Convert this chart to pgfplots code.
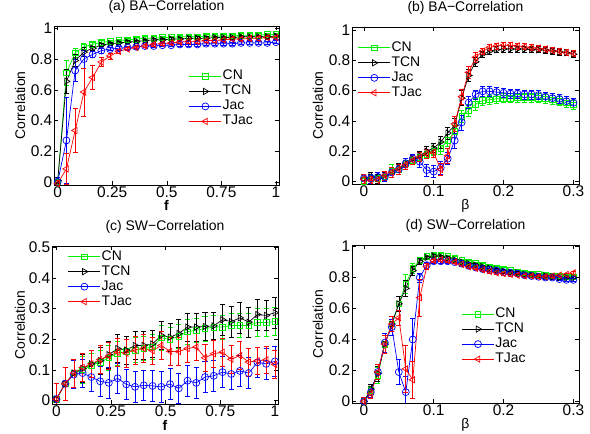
\documentclass[border=0pt]{standalone}
\usepackage{fontspec}
\setmainfont{Liberation Sans}
\usepackage{pgfplots}
\pgfplotsset{compat=1.18}

\definecolor{mgreen}{RGB}{0,240,0}
\definecolor{mblue}{RGB}{0,0,255}
\definecolor{mred}{RGB}{255,0,0}

\newcommand{\fs}{\fontsize{14}{16}\selectfont}
\newcommand{\fst}{\fontsize{15.5}{17}\selectfont}

\pgfplotsset{
  panel/.style={
    scale only axis,
    anchor=south west,
    /pgf/number format/assume math mode=true,
    tick align=inside,
    xtick pos=both, ytick pos=both,
    major tick length=4bp,
    tick style={black, line width=0.5bp},
    axis line style={line width=0.7bp},
    tick label style={font=\fst},
    every tick label/.append style={inner sep=1.5bp},
    title style={font=\fs, at={(0.5,1)}, anchor=base, yshift=10bp},
    ylabel style={font=\fs, anchor=center},
    xlabel style={font=\fs, at={(axis description cs:0.5,0)}, anchor=base, yshift=-26bp},
    ylabel={Correlation},
    legend cell align=left,
    legend style={font=\fs, draw=none, fill=none, inner sep=0pt, outer sep=0pt,
      anchor=north west, row sep=0bp,
      nodes={text height=10bp, text depth=3bp, inner sep=1bp}},
    legend image code/.code={
      \draw[mark repeat=2,mark phase=2,##1]
        plot coordinates {(0bp,0bp) (16bp,0bp) (32bp,0bp)};},
  },
  eb/.style={
    /pgfplots/error bars/y dir=both,
    /pgfplots/error bars/y explicit,
    /pgfplots/error bars/error bar style={line width=0.6bp},
    /pgfplots/error bars/error mark options={rotate=90, mark size=2.5bp, line width=0.6bp},
  },
  cn/.style={mgreen, line width=0.7bp, mark=square, mark size=2.8bp, mark options={solid}},
  tcn/.style={black, line width=0.7bp, mark=triangle, mark size=3.6bp, mark options={solid, rotate=-90}},
  jac/.style={mblue, line width=0.7bp, mark=o, mark size=3.5bp, mark options={solid}},
  tjac/.style={mred, line width=0.7bp, mark=triangle, mark size=3.6bp, mark options={solid, rotate=90}},
}

\begin{document}
\begin{tikzpicture}
\useasboundingbox (0,0) rectangle (590bp,434bp);

% (a) BA, varying f
\begin{axis}[panel,
  at={(54bp,249bp)}, width=225bp, height=159bp,
  xmin=-0.017, xmax=1.014, ymin=-0.02, ymax=1.015,
  xtick={0,0.25,0.5,0.75,1}, ytick={0,0.2,0.4,0.6,0.8,1},
  title={(a) BA−Correlation}, xlabel={\textbf{f}},
  ylabel style={at={(axis description cs:-0.151,0.5)}},
  legend style={at={(0.6,0.73)}},
]
\addplot[cn, eb] table[y error index=2] {
0 0.00 0.02
0.04 0.71 0.08
0.08 0.84 0.03
0.12 0.88 0.02
0.16 0.895 0.015
0.20 0.91 0.01
0.24 0.915 0.01
0.28 0.92 0.01
0.32 0.925 0.01
0.36 0.93 0.01
0.40 0.935 0.01
0.44 0.935 0.01
0.48 0.94 0.01
0.52 0.94 0.01
0.56 0.945 0.01
0.60 0.945 0.01
0.64 0.945 0.01
0.68 0.95 0.01
0.72 0.95 0.01
0.76 0.95 0.01
0.80 0.95 0.01
0.84 0.955 0.01
0.88 0.955 0.01
0.92 0.955 0.01
0.96 0.96 0.01
1.00 0.96 0.01
};
\addplot[tcn, eb] table[y error index=2] {
0 0.01 0.02
0.04 0.655 0.08
0.08 0.79 0.04
0.12 0.845 0.03
0.16 0.87 0.015
0.20 0.89 0.01
0.24 0.90 0.01
0.28 0.905 0.01
0.32 0.91 0.01
0.36 0.915 0.01
0.40 0.92 0.01
0.44 0.925 0.01
0.48 0.925 0.01
0.52 0.93 0.01
0.56 0.93 0.01
0.60 0.935 0.01
0.64 0.935 0.01
0.68 0.935 0.01
0.72 0.94 0.01
0.76 0.94 0.01
0.80 0.94 0.01
0.84 0.945 0.01
0.88 0.945 0.01
0.92 0.945 0.01
0.96 0.945 0.01
1.00 0.95 0.01
};
\addplot[jac, eb] table[y error index=2] {
0 0.00 0.03
0.04 0.27 0.28
0.08 0.725 0.07
0.12 0.80 0.06
0.16 0.83 0.02
0.20 0.855 0.015
0.24 0.865 0.01
0.28 0.87 0.01
0.32 0.875 0.01
0.36 0.88 0.01
0.40 0.885 0.01
0.44 0.885 0.01
0.48 0.89 0.01
0.52 0.89 0.01
0.56 0.895 0.01
0.60 0.895 0.01
0.64 0.895 0.01
0.68 0.90 0.01
0.72 0.90 0.01
0.76 0.90 0.01
0.80 0.90 0.01
0.84 0.905 0.01
0.88 0.905 0.01
0.92 0.905 0.01
0.96 0.905 0.01
1.00 0.91 0.01
};
\addplot[tjac, eb] table[y error index=2] {
0 -0.01 0.02
0.04 0.085 0.10
0.08 0.335 0.145
0.12 0.585 0.155
0.16 0.68 0.08
0.20 0.78 0.03
0.24 0.82 0.02
0.28 0.85 0.015
0.32 0.865 0.01
0.36 0.875 0.01
0.40 0.885 0.01
0.44 0.895 0.01
0.48 0.90 0.01
0.52 0.905 0.01
0.56 0.91 0.01
0.60 0.915 0.01
0.64 0.915 0.01
0.68 0.92 0.01
0.72 0.92 0.01
0.76 0.925 0.01
0.80 0.93 0.01
0.84 0.93 0.01
0.88 0.935 0.01
0.92 0.935 0.01
0.96 0.94 0.01
1.00 0.94 0.01
};
\legend{CN,TCN,Jac,TJac}
\end{axis}

% (b) BA, varying beta
\begin{axis}[panel,
  at={(352bp,250bp)}, width=227bp, height=157bp,
  xmin=-0.017, xmax=0.308, ymin=-0.017, ymax=1.02,
  xtick={0,0.1,0.2,0.3}, ytick={0,0.2,0.4,0.6,0.8,1},
  title={(b) BA−Correlation}, xlabel={β},
  ylabel style={at={(axis description cs:-0.15,0.5)}},
  legend style={at={(0.026,0.915)}},
]
\addplot[cn, eb] table[y error index=2] {
0 0.00 0.03
0.01 0.02 0.03
0.02 0.02 0.03
0.03 0.03 0.03
0.04 0.07 0.04
0.05 0.08 0.03
0.06 0.12 0.03
0.07 0.14 0.03
0.08 0.16 0.03
0.09 0.18 0.03
0.10 0.20 0.03
0.11 0.22 0.04
0.12 0.27 0.04
0.13 0.33 0.04
0.14 0.43 0.04
0.15 0.47 0.04
0.16 0.51 0.04
0.17 0.535 0.03
0.18 0.54 0.03
0.19 0.545 0.03
0.20 0.55 0.03
0.21 0.55 0.03
0.22 0.555 0.03
0.23 0.555 0.03
0.24 0.555 0.03
0.25 0.55 0.03
0.26 0.545 0.03
0.27 0.54 0.03
0.28 0.53 0.03
0.29 0.52 0.03
0.30 0.505 0.03
};
\addplot[tcn, eb] table[y error index=2] {
0 0.02 0.03
0.01 0.03 0.03
0.02 0.02 0.03
0.03 0.04 0.03
0.04 0.06 0.03
0.05 0.09 0.03
0.06 0.12 0.03
0.07 0.15 0.03
0.08 0.17 0.03
0.09 0.20 0.03
0.10 0.22 0.03
0.11 0.26 0.04
0.12 0.32 0.04
0.13 0.37 0.05
0.14 0.55 0.05
0.15 0.70 0.04
0.16 0.79 0.03
0.17 0.84 0.02
0.18 0.86 0.02
0.19 0.87 0.02
0.20 0.875 0.02
0.21 0.875 0.02
0.22 0.875 0.02
0.23 0.875 0.02
0.24 0.87 0.02
0.25 0.87 0.02
0.26 0.865 0.02
0.27 0.86 0.02
0.28 0.855 0.02
0.29 0.85 0.02
0.30 0.84 0.02
};
\addplot[jac, eb] table[y error index=2] {
0 0.02 0.03
0.01 0.02 0.03
0.02 0.03 0.03
0.03 0.03 0.03
0.04 0.06 0.03
0.05 0.08 0.03
0.06 0.12 0.03
0.07 0.15 0.03
0.08 0.13 0.04
0.09 0.075 0.04
0.10 0.065 0.04
0.11 0.09 0.04
0.12 0.15 0.04
0.13 0.27 0.05
0.14 0.39 0.05
0.15 0.52 0.04
0.16 0.575 0.03
0.17 0.595 0.03
0.18 0.595 0.03
0.19 0.59 0.03
0.20 0.585 0.03
0.21 0.58 0.03
0.22 0.58 0.03
0.23 0.575 0.03
0.24 0.575 0.03
0.25 0.57 0.03
0.26 0.56 0.03
0.27 0.55 0.03
0.28 0.545 0.03
0.29 0.53 0.03
0.30 0.52 0.03
};
\addplot[tjac, eb] table[y error index=2] {
0 0.015 0.03
0.01 0.005 0.03
0.02 0.01 0.03
0.03 0.04 0.03
0.04 0.06 0.03
0.05 0.08 0.03
0.06 0.11 0.03
0.07 0.14 0.03
0.08 0.16 0.03
0.09 0.18 0.03
0.10 0.19 0.03
0.11 0.08 0.04
0.12 0.17 0.05
0.13 0.38 0.05
0.14 0.56 0.05
0.15 0.72 0.04
0.16 0.82 0.03
0.17 0.86 0.02
0.18 0.885 0.02
0.19 0.895 0.02
0.20 0.90 0.02
0.21 0.90 0.02
0.22 0.895 0.02
0.23 0.89 0.02
0.24 0.885 0.02
0.25 0.88 0.02
0.26 0.875 0.02
0.27 0.865 0.02
0.28 0.86 0.02
0.29 0.85 0.02
0.30 0.845 0.02
};
\legend{CN,TCN,Jac,TJac}
\end{axis}

% (c) SW, varying f
\begin{axis}[panel,
  at={(52bp,30bp)}, width=226bp, height=158bp,
  xmin=-0.02, xmax=1.014, ymin=-0.011, ymax=0.5045,
  xtick={0,0.25,0.5,0.75,1}, ytick={0,0.1,0.2,0.3,0.4,0.5},
  title={(c) SW−Correlation}, xlabel={\textbf{f}},
  ylabel style={at={(axis description cs:-0.142,0.5)}},
  legend style={at={(0.071,0.98)}},
]
\addplot[cn, eb] table[y error index=2] {
0 0.005 0.05
0.04 0.055 0.055
0.08 0.09 0.045
0.12 0.10 0.045
0.16 0.115 0.04
0.20 0.125 0.04
0.24 0.14 0.04
0.28 0.155 0.04
0.32 0.16 0.04
0.36 0.165 0.04
0.40 0.17 0.04
0.44 0.175 0.04
0.48 0.205 0.04
0.52 0.20 0.04
0.56 0.21 0.04
0.60 0.225 0.04
0.64 0.23 0.04
0.68 0.235 0.04
0.72 0.24 0.04
0.76 0.24 0.04
0.80 0.245 0.04
0.84 0.245 0.04
0.88 0.245 0.04
0.92 0.255 0.045
0.96 0.255 0.045
1.00 0.258 0.045
};
\addplot[tcn, eb] table[y error index=2] {
0 0.005 0.05
0.04 0.055 0.055
0.08 0.09 0.045
0.12 0.105 0.045
0.16 0.12 0.045
0.20 0.13 0.045
0.24 0.15 0.045
0.28 0.17 0.045
0.32 0.165 0.045
0.36 0.18 0.045
0.40 0.18 0.045
0.44 0.185 0.045
0.48 0.213 0.045
0.52 0.207 0.045
0.56 0.219 0.045
0.60 0.24 0.045
0.64 0.24 0.045
0.68 0.242 0.045
0.72 0.244 0.045
0.76 0.264 0.05
0.80 0.258 0.05
0.84 0.27 0.05
0.88 0.256 0.05
0.92 0.281 0.05
0.96 0.278 0.05
1.00 0.287 0.05
};
\addplot[jac, eb] table[y error index=2] {
0 0.005 0.05
0.04 0.055 0.055
0.08 0.085 0.045
0.12 0.09 0.045
0.16 0.077 0.045
0.20 0.063 0.05
0.24 0.058 0.05
0.28 0.073 0.05
0.32 0.053 0.05
0.36 0.045 0.05
0.40 0.05 0.05
0.44 0.048 0.05
0.48 0.045 0.05
0.52 0.054 0.05
0.56 0.04 0.05
0.60 0.065 0.05
0.64 0.058 0.05
0.68 0.077 0.05
0.72 0.081 0.05
0.76 0.093 0.05
0.80 0.087 0.05
0.84 0.097 0.05
0.88 0.09 0.05
0.92 0.125 0.05
0.96 0.12 0.05
1.00 0.128 0.05
};
\addplot[tjac, eb] table[y error index=2] {
0 0.005 0.05
0.04 0.055 0.055
0.08 0.09 0.045
0.12 0.108 0.045
0.16 0.12 0.045
0.20 0.134 0.045
0.24 0.146 0.045
0.28 0.158 0.045
0.32 0.155 0.045
0.36 0.165 0.045
0.40 0.17 0.045
0.44 0.163 0.045
0.48 0.18 0.045
0.52 0.161 0.045
0.56 0.16 0.045
0.60 0.17 0.045
0.64 0.175 0.045
0.68 0.14 0.045
0.72 0.153 0.045
0.76 0.158 0.045
0.80 0.135 0.045
0.84 0.147 0.045
0.88 0.126 0.045
0.92 0.13 0.045
0.96 0.133 0.045
1.00 0.118 0.045
};
\legend{CN,TCN,Jac,TJac}
\end{axis}

% (d) SW, varying beta
\begin{axis}[panel,
  at={(352bp,31bp)}, width=227bp, height=158bp,
  xmin=-0.017, xmax=0.308, ymin=-0.01, ymax=1.01,
  xtick={0,0.1,0.2,0.3}, ytick={0,0.2,0.4,0.6,0.8,1},
  title={(d) SW−Correlation}, xlabel={β},
  ylabel style={at={(axis description cs:-0.15,0.5)}},
  legend style={at={(0.483,0.61)}},
]
\addplot[cn, eb] table[y error index=2] {
0 0.00 0.03
0.01 0.07 0.03
0.02 0.17 0.05
0.03 0.37 0.06
0.04 0.50 0.05
0.05 0.63 0.05
0.06 0.76 0.06
0.07 0.86 0.03
0.08 0.91 0.02
0.09 0.935 0.01
0.10 0.945 0.01
0.11 0.945 0.01
0.12 0.935 0.01
0.13 0.925 0.01
0.14 0.91 0.01
0.15 0.90 0.01
0.16 0.89 0.01
0.17 0.88 0.01
0.18 0.87 0.01
0.19 0.86 0.01
0.20 0.855 0.01
0.21 0.845 0.01
0.22 0.835 0.01
0.23 0.83 0.01
0.24 0.825 0.01
0.25 0.82 0.01
0.26 0.815 0.01
0.27 0.81 0.01
0.28 0.81 0.01
0.29 0.805 0.01
0.30 0.805 0.01
};
\addplot[tcn, eb] table[y error index=2] {
0 0.00 0.03
0.01 0.08 0.03
0.02 0.18 0.05
0.03 0.37 0.06
0.04 0.50 0.05
0.05 0.63 0.05
0.06 0.73 0.05
0.07 0.845 0.03
0.08 0.905 0.02
0.09 0.93 0.01
0.10 0.94 0.01
0.11 0.935 0.01
0.12 0.925 0.01
0.13 0.915 0.01
0.14 0.90 0.01
0.15 0.89 0.01
0.16 0.88 0.01
0.17 0.87 0.01
0.18 0.86 0.01
0.19 0.85 0.01
0.20 0.84 0.01
0.21 0.835 0.01
0.22 0.83 0.01
0.23 0.82 0.01
0.24 0.815 0.01
0.25 0.81 0.01
0.26 0.81 0.01
0.27 0.805 0.01
0.28 0.80 0.01
0.29 0.80 0.01
0.30 0.80 0.01
};
\addplot[jac, eb] table[y error index=2] {
0 0.00 0.03
0.01 0.06 0.03
0.02 0.19 0.05
0.03 0.38 0.06
0.04 0.48 0.05
0.05 0.19 0.08
0.06 0.06 0.10
0.07 0.40 0.14
0.08 0.80 0.03
0.09 0.88 0.02
0.10 0.905 0.01
0.11 0.905 0.01
0.12 0.905 0.01
0.13 0.90 0.01
0.14 0.89 0.01
0.15 0.875 0.01
0.16 0.865 0.01
0.17 0.855 0.01
0.18 0.85 0.01
0.19 0.845 0.01
0.20 0.835 0.01
0.21 0.83 0.01
0.22 0.825 0.01
0.23 0.815 0.01
0.24 0.81 0.01
0.25 0.805 0.01
0.26 0.80 0.01
0.27 0.80 0.01
0.28 0.79 0.01
0.29 0.785 0.01
0.30 0.785 0.01
};
\addplot[tjac, eb] table[y error index=2] {
0 0.00 0.03
0.01 0.05 0.03
0.02 0.19 0.05
0.03 0.37 0.06
0.04 0.50 0.05
0.05 0.54 0.05
0.06 0.21 0.15
0.07 0.14 0.12
0.08 0.67 0.12
0.09 0.87 0.02
0.10 0.91 0.01
0.11 0.915 0.01
0.12 0.91 0.01
0.13 0.90 0.01
0.14 0.885 0.01
0.15 0.87 0.01
0.16 0.86 0.01
0.17 0.85 0.01
0.18 0.84 0.01
0.19 0.83 0.01
0.20 0.825 0.01
0.21 0.82 0.01
0.22 0.815 0.01
0.23 0.81 0.01
0.24 0.81 0.01
0.25 0.805 0.01
0.26 0.805 0.01
0.27 0.81 0.01
0.28 0.815 0.01
0.29 0.82 0.01
0.30 0.83 0.01
};
\legend{CN,TCN,Jac,TJac}
\end{axis}
\end{tikzpicture}
\end{document}
